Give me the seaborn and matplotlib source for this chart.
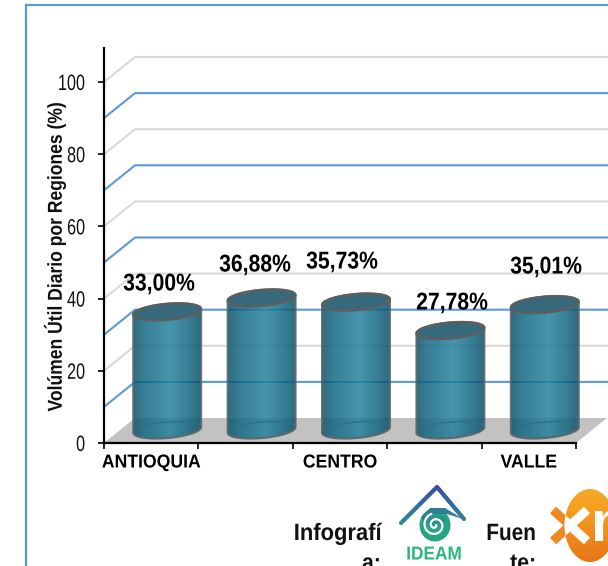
"""
Volumen util diario por regiones: barras tipo cilindro 3D sobre seaborn
"""
import numpy as np
import pandas as pd
import matplotlib
matplotlib.use('Agg')
import matplotlib.pyplot as plt
from matplotlib.patches import Polygon, Rectangle, Ellipse
from matplotlib.path import Path
from matplotlib.patheffects import AbstractPathEffect
from matplotlib.transforms import Affine2D
import seaborn as sns

regions = ["ANTIOQUIA", "CARIBE", "CENTRO", "ORIENTE", "VALLE"]
tick_names = ["ANTIOQUIA", "", "CENTRO", "", "VALLE"]
values = [33.00, 36.88, 35.73, 27.78, 35.01]
value_labels = ["33,00%", "36,88%", "35,73%", "27,78%", "35,01%"]
y_ticks = [0, 20, 40, 60, 80, 100]
grey_lines = [20, 40, 60, 80, 100]
blue_lines = [10, 30, 50, 70, 90]
y_title = "Volúmen Útil Diario por Regiones (%)"

W, H = 608, 566
AX_L, AX_R, AX_B, AX_T = 104, 576, 443, 48
PX_X = (AX_R - AX_L) / 5       # px por categoria
PX_Y = 3.61                    # px por unidad de %
DX, DY = 31 / PX_X, 25 / PX_Y  # fondo de la caja 3D

BLUE = "#5b9bd5"
GREY = "#d9d9d9"


class Squeeze(AbstractPathEffect):
    # la fuente original es Arial comprimida: angosta el texto alrededor de un punto en px
    def __init__(self, x=0, y=0, sx=1.0, sy=1.0):
        super().__init__()
        self.tr = Affine2D().translate(-x, -y).scale(sx, sy).translate(x, y)

    def draw_path(self, renderer, gc, tpath, affine, rgbFace=None):
        renderer.draw_path(gc, tpath, affine + self.tr, rgbFace)


def narrow_text(px, py, txt, size, sx=1.0, ha="center", va="center", color="black"):
    t = fig.text(px / W, 1 - py / H, txt, ha=ha, va=va, fontsize=size, fontweight="bold",
                 color=color, zorder=30)
    t.set_path_effects([Squeeze(x=px, sx=sx)])
    return t


sns.set_theme(style="white")
plt.rcParams["font.family"] = ["Liberation Sans"]

fig = plt.figure(figsize=(W / 100, H / 100), dpi=100)
ax = fig.add_axes([AX_L / W, 1 - AX_B / H, (AX_R - AX_L) / W, (AX_B - AX_T) / H])
ax.patch.set_alpha(0)

df = pd.DataFrame({"region": regions, "value": values})
sns.barplot(data=df, x="region", y="value", color="#3b8aa3", width=68 / PX_X, ax=ax, zorder=3)
ax.set_xlim(-0.5, 4.5)
ax.set_ylim(0, (AX_B - AX_T) / PX_Y)

# piso gris
floor = Polygon([(-0.5, 0), (-0.5 + DX, DY), (4.5 + DX, DY), (4.5, 0)],
                closed=True, fc="#c2c2c2", ec="none", zorder=1, clip_on=False)
ax.add_patch(floor)

# lineas de la pared de fondo
for vals, col in [(grey_lines, GREY), (blue_lines, BLUE)]:
    for v in vals:
        ax.plot([-0.5, -0.5 + DX, 5.2], [v, v + DY, v + DY], color=col, lw=1.5,
                clip_on=False, zorder=2, solid_joinstyle="round")


def ellipse_pts(cx, cy, a=34.0, b=8.0, tilt=5.0, t0=0, t1=2 * np.pi, n=80):
    # elipse inclinada en px, devuelta en unidades de datos
    t = np.linspace(t0, t1, n)
    th = np.radians(tilt)
    px = a * np.cos(t) * np.cos(th) - b * np.sin(t) * np.sin(th)
    py = a * np.cos(t) * np.sin(th) + b * np.sin(t) * np.cos(th)
    return np.column_stack([cx + px / PX_X, cy + py / PX_Y])


# gradiente horizontal del cilindro (semitransparente, deja ver las lineas de atras)
stops = np.array([0.0, 0.16, 0.55, 0.82, 1.0])
ramp = np.linspace(0, 1, 120)
r = np.interp(ramp, stops, [0x0c, 0x12, 0x24, 0x12, 0x0a]) / 255
g = np.interp(ramp, stops, [0x50, 0x66, 0x82, 0x66, 0x4e]) / 255
bl = np.interp(ramp, stops, [0x6a, 0x82, 0x9e, 0x80, 0x66]) / 255
grad = np.dstack([r, g, bl])

base = 13 / PX_Y
shift = 16 / PX_X
CYL = 3.58 / PX_Y   # la perspectiva acorta un poco la altura
for bar, val in zip(ax.containers[0], values):
    bar.set_x(bar.get_x() + shift)
    bar.set_y(base)
    bar.set_height(bar.get_height() * CYL)
    bar.set_facecolor("none")
    bar.set_edgecolor("none")
    cx = bar.get_x() + bar.get_width() / 2
    top = base + bar.get_height()

    # silueta: mitad alta de la tapa + mitad baja de la base
    upper = ellipse_pts(cx, top, t0=0, t1=np.pi)
    lower = ellipse_pts(cx, base, t0=np.pi, t1=2 * np.pi)
    body = np.vstack([upper, lower, upper[:1]])
    ax.add_patch(Polygon(body, closed=True, fc="none", ec="#56666c", lw=1.6, zorder=6, alpha=0.9,
                         clip_on=False))
    img = ax.imshow(grad, extent=[cx - 35 / PX_X, cx + 35 / PX_X, 0, 60], aspect="auto",
                    alpha=0.85, zorder=4, interpolation="bilinear")
    img.set_clip_box(fig.bbox)
    img.set_clip_path(Path(body), ax.transData)
    # elipse interior de la base, apenas visible
    ax.add_patch(Polygon(ellipse_pts(cx, base, t0=0, t1=np.pi), closed=False, fc="none",
                         ec="#2f7088", lw=1.0, zorder=5, clip_on=False))
    # tapa
    ax.add_patch(Polygon(ellipse_pts(cx, top), closed=True, fc="#37697c", ec="#5e5e5e",
                         lw=1.7, zorder=7, clip_on=False))

ax.set_xlim(-0.5, 4.5)
ax.set_ylim(0, (AX_B - AX_T) / PX_Y)

# etiquetas de valor (posicion, en px)
label_xy = [(159, 284), (255, 265), (342, 262), (452, 303), (546, 267)]
for (lx, ly), txt in zip(label_xy, value_labels):
    narrow_text(lx, ly, txt, 17.5, sx=0.87)

# ejes
sns.despine(ax=ax)
for side in ["left", "bottom"]:
    ax.spines[side].set_linewidth(1.6)
    ax.spines[side].set_color("black")
    ax.spines[side].set_zorder(8)
ax.set_yticks(y_ticks)
ax.set_yticklabels([str(t) for t in y_ticks], fontsize=16, color="#111111")
ax.set_xticks(np.arange(-0.5, 5, 1))
ax.set_xticklabels([])
ax.tick_params(axis="both", which="both", direction="out", length=4.3, width=1.2, color="black",
               left=True, bottom=True)
ax.tick_params(axis="y", pad=9)
ax.set_xlabel("")
ax.set_ylabel("")
for lab in ax.get_yticklabels():
    lab.set_path_effects([Squeeze(x=84, sx=0.73)])
for i, name in enumerate(tick_names):
    if name:
        narrow_text(AX_L + (i + 0.5) * PX_X, 463, name, 13.5, sx=0.94)

ytitle = fig.text(54.5 / W, 1 - 257 / H, y_title, rotation=90, ha="center", va="center",
                  fontsize=14.5, fontweight="bold", color="#111111")
ytitle.set_path_effects([Squeeze(y=H - 257, sy=0.87)])

# marco del grafico
fig.add_artist(Rectangle((26.5 / W, -0.002), 700 / W, 1 - 5 / H + 0.002, transform=fig.transFigure,
                         fc="none", ec=BLUE, lw=1.6))

# pie: textos partidos como en el original
for txt, px, py, sq in [("Infografí", 382, 540, 0.93), ("a:", 381, 570, 0.9),
                        ("Fuen", 536, 540, 0.88), ("te:", 536, 570, 0.9)]:
    narrow_text(px, py, txt, 17, sx=sq, ha="right", va="baseline", color="#111111")

# logos dibujados en px de la figura
logo = fig.add_axes([0, 0, 1, 1], zorder=20)
logo.patch.set_alpha(0)
logo.axis("off")

# IDEAM: techo
roof = [((401, 523), (437, 487)), ((437, 487), (464, 519))]
cols = [("#2f8f96", "#3b4fa0"), ("#3b4fa0", "#2f7f9c")]
for ((x0, y0), (x1, y1)), (c0, c1) in zip(roof, cols):
    rgb0, rgb1 = np.array(matplotlib.colors.to_rgb(c0)), np.array(matplotlib.colors.to_rgb(c1))
    for s0, s1 in zip(np.linspace(0, 1, 12)[:-1], np.linspace(0, 1, 12)[1:]):
        logo.plot([x0 + s0 * (x1 - x0), x0 + s1 * (x1 - x0)], [y0 + s0 * (y1 - y0), y0 + s1 * (y1 - y0)],
                  color=rgb0 + (rgb1 - rgb0) * (s0 + s1) / 2, lw=3.0, solid_capstyle="round")
# IDEAM: ojo y remolino
swirl = Ellipse((435, 525), 31, 33, fc="#27a583", ec="none")
logo.add_patch(swirl)
band = Polygon([(421, 517), (430, 508), (445, 508), (463, 519), (447, 514), (432, 514), (425, 522)],
               closed=True, fc="#2f7f93", ec="none")
logo.add_patch(band)
logo.add_patch(Ellipse((435, 520), 22, 10, fc="#2d8f8f", ec="none", alpha=0.8))
turn = np.linspace(0, 3.4 * np.pi, 80)
logo.plot(435 + (1.0 + 1.0 * turn) * np.cos(turn), 525 + (1.0 + 1.0 * turn) * np.sin(turn),
          color="white", lw=1.6)
t_ideam = logo.text(434, 555, "IDEAM", ha="center", va="center", fontsize=13.5, fontweight="bold",
                    color="#2cb67d")
t_ideam.set_path_effects([Squeeze(x=434, sx=0.92)])

# XM: X naranja fuera del ovalo y blanca dentro
logo.plot([553, 587], [510, 541], color="#ee8a25", lw=6.5, solid_capstyle="butt")
logo.plot([587, 553], [510, 541], color="#ee8a25", lw=6.5, solid_capstyle="butt")
oval = Ellipse((590, 525.5), 51, 73, fc="none", ec="none")
logo.add_patch(oval)
shade = np.linspace(0, 1, 80)[:, None]
oval_rgb = np.hstack([np.interp(shade, [0, 0.3, 1], [0.97, 0.96, 0.91]),
                      np.interp(shade, [0, 0.3, 1], [0.66, 0.62, 0.45]),
                      np.interp(shade, [0, 0.3, 1], [0.16, 0.12, 0.10])])[:, None, :]
oval_img = logo.imshow(oval_rgb, extent=[560, 620, 565, 486], aspect="auto", zorder=2, interpolation="bilinear")
oval_img.set_clip_path(oval)
for xs in [[553, 587], [587, 553]]:
    ln, = logo.plot(xs, [510, 541], color="white", lw=6.5, solid_capstyle="butt", zorder=3)
    ln.set_clip_path(oval)
logo.text(591, 541, "m", ha="left", va="baseline", fontsize=42, fontweight="bold",
          color="white", zorder=4)
logo.set_xlim(0, W)
logo.set_ylim(H, 0)

fig.savefig("out.png", dpi=100)
plt.close(fig)
